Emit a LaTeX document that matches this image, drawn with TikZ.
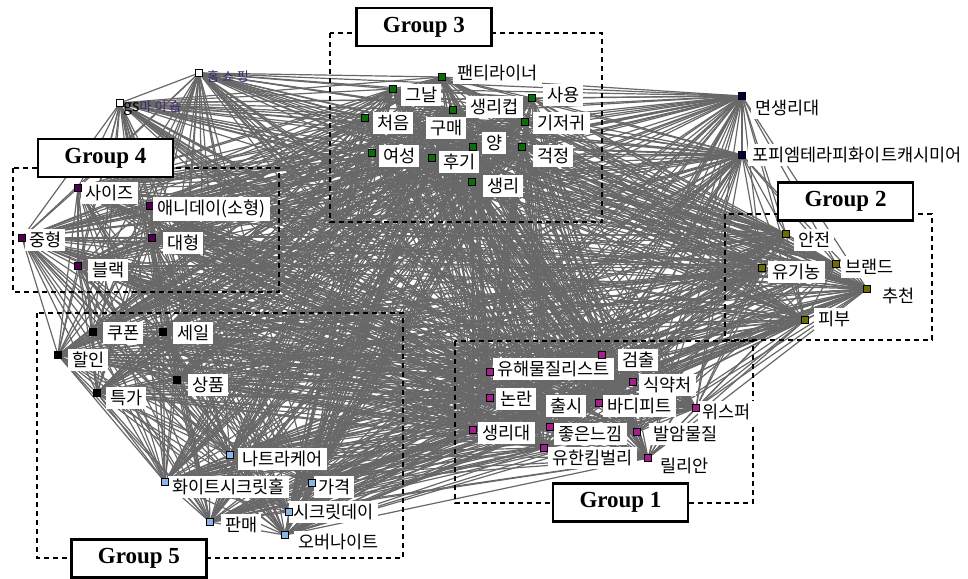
\documentclass[tikz,border=0pt]{standalone}
\usepackage{fontspec}
\usetikzlibrary{backgrounds}
\pgfdeclarelayer{lbls}
\pgfsetlayers{background,lbls,main}
\newfontfamily\kr{Noto Sans CJK KR}
\newfontfamily\grp{Liberation Serif}
\definecolor{cgreen}{RGB}{10,110,10}
\definecolor{cpurple}{RGB}{80,0,80}
\definecolor{colive}{RGB}{110,110,0}
\definecolor{cmag}{RGB}{165,30,140}
\definecolor{cblue}{RGB}{140,180,230}
\definecolor{cnavy}{RGB}{0,0,60}
\definecolor{cedge}{RGB}{104,104,104}
\definecolor{chs}{RGB}{60,40,110}
\tikzset{
  sqm/.style={rectangle,draw=black,line width=0.8pt,minimum size=7pt,inner sep=0pt},
  lbl/.style={anchor=west,fill=white,inner xsep=4pt,inner ysep=3pt,font=\kr\fontsize{17.5}{19}\selectfont,text=black},
  edge/.style={draw=cedge,line width=1.2pt},
  grpbox/.style={dashed,dash pattern=on 5pt off 4pt,line width=1.8pt,black},
  grplbl/.style={draw=black,line width=2.2pt,fill=white,minimum width=135pt,minimum height=38pt,inner sep=0pt,font=\grp\bfseries\fontsize{23}{25}\selectfont}
}
\newcommand\mk[4]{\node[sqm,fill=#4] (#1) at (#2,#3) {};}
\newcommand\lb[4]{\node[lbl] (#1l) at (#2-4,#3) {#4};}
\def\allnodes{hs,gs,pt,gn,cup,sy,co,gm,gj,yang,ys,hg,gw,sr,sz,ad,jh,dh,bl,mr,pp,an,yg,br,ch,pb,gc,yh,sk,nr,cs,bd,ws,sd,jn,ba,yk,ll,kp,se,hi,sp,tg,nt,hw,gk,sc,pm,on}
\begin{document}
\begin{tikzpicture}[x=1pt,y=-1pt]
\useasboundingbox (0,0) rectangle (968,578);
% markers
\mk{hs}{199}{73}{white}
\mk{gs}{120}{103}{white}
% group 3
\mk{pt}{442}{77}{cgreen}
\mk{gn}{393}{89}{cgreen}
\mk{cup}{453}{110}{cgreen}
\mk{sy}{532}{98}{cgreen}
\mk{co}{365}{118}{cgreen}
\mk{gj}{525}{122}{cgreen}
\mk{yang}{473}{147}{cgreen}
\mk{ys}{372}{153}{cgreen}
\mk{hg}{432}{158}{cgreen}
\mk{gw}{522}{147}{cgreen}
\mk{sr}{472}{182}{cgreen}
% group 4
\mk{sz}{78}{188}{cpurple}
\mk{jh}{22}{238}{cpurple}
\mk{dh}{152}{238}{cpurple}
\mk{bl}{78}{266}{cpurple}
% group 2
\mk{mr}{742}{96}{cnavy}
\mk{pp}{742}{155}{cnavy}
\mk{an}{786}{234}{colive}
\mk{yg}{762}{268}{colive}
\mk{br}{836}{264}{colive}
\mk{ch}{867}{289}{colive}
\mk{pb}{805}{320}{colive}
% group 1
\mk{gc}{602}{355}{cmag}
\mk{yh}{490}{372}{cmag}
\mk{sk}{633}{382}{cmag}
\mk{nr}{490}{398}{cmag}
\mk{bd}{599}{403}{cmag}
\mk{ws}{696}{408}{cmag}
\mk{sd}{473}{430}{cmag}
\mk{jn}{550}{427}{cmag}
\mk{ba}{637}{432}{cmag}
\mk{yk}{544}{448}{cmag}
\mk{ll}{648}{458}{cmag}
% group 5
\mk{kp}{93}{332}{black}
\mk{se}{163}{332}{black}
\mk{hi}{58}{355}{black}
\mk{sp}{177}{380}{black}
\mk{tg}{97}{393}{black}
\mk{nt}{230}{455}{cblue}
\mk{hw}{165}{482}{cblue}
\mk{gk}{312}{483}{cblue}
\mk{sc}{289}{512}{cblue}
\mk{pm}{210}{522}{cblue}
\mk{on}{285}{535}{cblue}
\begin{pgfonlayer}{lbls}
% markers hidden behind their labels
\mk{gm}{434}{128}{cgreen}
\mk{ad}{150}{206}{cpurple}
\mk{cs}{553}{404}{cmag}
% group frames
\draw[grpbox] (330,33) rectangle (602,222);
\draw[grpbox] (13,168) rectangle (279,292);
\draw[grpbox] (725,214) rectangle (932,340);
\draw[grpbox] (455,341) rectangle (753,503);
\draw[grpbox] (37,313) rectangle (403,558);
% labels
\node[font=\kr\fontsize{13}{14}\selectfont,text=chs,anchor=west,inner sep=1pt] (hsl) at (206,77) {홈 쇼 핑};
\node[font=\kr\fontsize{13}{14}\selectfont,text=chs,anchor=west,inner sep=1pt] (gsl) at (122,108) {{\color{black}\fontsize{16}{16}\selectfont gs}마 이 숍};
\lb{pt}{457}{73}{팬티라이너}
\lb{gn}{405}{95}{그날}
\lb{cup}{470}{107}{생리컵}
\lb{sy}{547}{95}{사용}
\lb{co}{377}{123}{처음}
\lb{gm}{430}{128}{구매}
\lb{gj}{537}{123}{기저귀}
\lb{yang}{486}{143}{양}
\lb{ys}{383}{156}{여성}
\lb{hg}{443}{162}{후기}
\lb{gw}{537}{156}{걱정}
\lb{sr}{487}{186}{생리}
\lb{sz}{85}{193}{사이즈}
\lb{ad}{157}{209}{애니데이(소형)}
\lb{jh}{29}{240}{중형}
\lb{dh}{167}{243}{대형}
\lb{bl}{92}{270}{블랙}
\lb{mr}{755}{108}{면생리대}
\lb{pp}{752}{155}{포피엠테라피화이트캐시미어}
\lb{an}{798}{240}{안전}
\lb{yg}{772}{272}{유기농}
\lb{br}{845}{267}{브랜드}
\lb{ch}{882}{296}{추천}
\lb{pb}{818}{319}{피부}
\lb{gc}{622}{360}{검출}
\lb{yh}{497}{369}{유해물질리스트}
\lb{sk}{643}{385}{식약처}
\lb{nr}{500}{399}{논란}
\lb{cs}{550}{406}{출시}
\lb{bd}{607}{406}{바디피트}
\lb{ws}{702}{412}{위스퍼}
\lb{sd}{482}{433}{생리대}
\lb{jn}{558}{434}{좋은느낌}
\lb{ba}{653}{434}{발암물질}
\lb{yk}{552}{458}{유한킴벌리}
\lb{ll}{660}{466}{릴리안}
\lb{kp}{107}{333}{쿠폰}
\lb{se}{177}{333}{세일}
\lb{hi}{72}{360}{할인}
\lb{sp}{192}{385}{상품}
\lb{tg}{110}{398}{특가}
\lb{nt}{242}{459}{나트라케어}
\lb{hw}{172}{487}{화이트시크릿홀}
\lb{gk}{318}{487}{가격}
\lb{sc}{293}{512}{시크릿데이}
\lb{pm}{225}{525}{판매}
\lb{on}{298}{542}{오버나이트}
\end{pgfonlayer}
% edges
\begin{pgfonlayer}{background}
\foreach \a [count=\i] in \allnodes {
  \foreach \b [count=\j] in \allnodes {
    \ifnum\j>\i \draw[edge] (\a) -- (\b); \fi
  }
}
\end{pgfonlayer}
% group titles
\node[grplbl] (g3) at (424,27) {Group 3};
\node[grplbl] (g4) at (105.5,158) {Group 4};
\node[grplbl] (g2) at (845.5,201.5) {Group 2};
\node[grplbl] (g1) at (620.5,502.5) {Group 1};
\node[grplbl] (g5) at (139,558.5) {Group 5};
\end{tikzpicture}
\end{document}
